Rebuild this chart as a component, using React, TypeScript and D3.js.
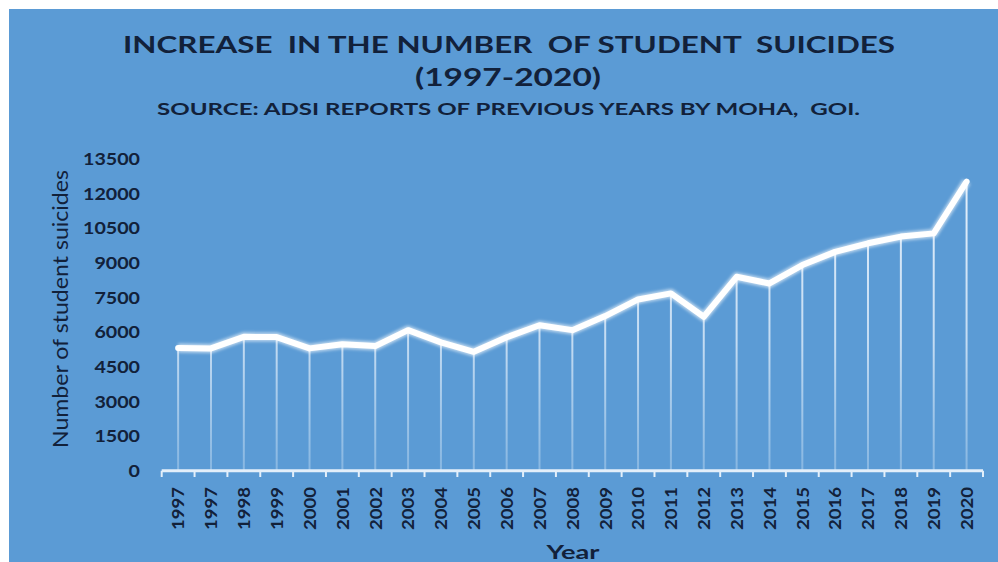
import React from "react";
import * as d3 from "d3";

const years = ["1997","1997","1998","1999","2000","2001","2002","2003","2004","2005","2006","2007","2008","2009","2010","2011","2012","2013","2014","2015","2016","2017","2018","2019","2020"];
const suicides = [5320,5300,5800,5790,5300,5480,5400,6090,5560,5150,5780,6300,6090,6700,7420,7680,6670,8400,8110,8910,9480,9850,10140,10280,12520];
const yTicks = [0,1500,3000,4500,6000,7500,9000,10500,12000,13500];

const titleLine1 = "INCREASE  IN THE NUMBER  OF STUDENT  SUICIDES";
const titleLine2 = "(1997-2020)";
const subtitle = "SOURCE: ADSI REPORTS OF PREVIOUS YEARS BY MOHA,  GOI.";
const yTitle = "Number of student suicides";
const xTitle = "Year";

const W = 998, H = 562;
const BG = "#5b9bd5";
const DARK = "#12213a";
const FONT = "Lato, 'Open Sans', 'Liberation Sans', sans-serif";

export default function App() {
  const idx = years.map((_, i) => i);
  const x = d3.scaleBand<number>().domain(idx).range([161.7, 983]).padding(0);
  const y = d3.scaleLinear().domain([0, 13500]).range([470.8, 159]);
  const cx = (i: number) => (x(i) as number) + x.bandwidth() / 2;
  const line = d3.line<number>().x((_, i) => cx(i)).y((d) => y(d));
  const path = line(suicides) || "";
  const boundaries = d3.range(years.length + 1).map((k) => 161.7 + k * x.bandwidth());

  return (
    <svg width={W} height={H} style={{ position: "absolute", left: 0, top: 0, background: "#fff" }}>
      <defs>
        <linearGradient id="drop" gradientUnits="userSpaceOnUse" x1="0" y1="150" x2="0" y2="471">
          <stop offset="0" stopColor="#f4f9ff" stopOpacity={0.95} />
          <stop offset="0.6" stopColor="#e6f1fc" stopOpacity={0.75} />
          <stop offset="1" stopColor="#d9eaf9" stopOpacity={0.35} />
        </linearGradient>
        <filter id="glow" x="-5%" y="-20%" width="110%" height="140%">
          <feGaussianBlur stdDeviation="1.6" />
        </filter>
      </defs>
      <rect x={9} y={9} width={W - 9} height={H - 9} fill={BG} />

      <text x={509} y={53} textAnchor="middle" fontFamily={FONT} fontWeight="bold" fontSize={23}
        fill={DARK} textLength={772} lengthAdjust="spacingAndGlyphs" style={{ whiteSpace: "pre" }}>{titleLine1}</text>
      <text x={508} y={86} textAnchor="middle" fontFamily={FONT} fontWeight="bold" fontSize={24}
        fill={DARK} textLength={186} lengthAdjust="spacingAndGlyphs">{titleLine2}</text>
      <text x={508.5} y={115} textAnchor="middle" fontFamily={FONT} fontWeight="bold" fontSize={17.5}
        fill={DARK} textLength={703} lengthAdjust="spacingAndGlyphs" style={{ whiteSpace: "pre" }}>{subtitle}</text>

      {yTicks.map((t) => (
        <text key={t} x={140} y={y(t)} dy="0.35em" textAnchor="end" fontFamily={FONT} fontWeight="bold"
          fontSize={17.5} fill={DARK} textLength={String(t).length * 11.4} lengthAdjust="spacingAndGlyphs">{t}</text>
      ))}

      <text transform={`translate(68,309) rotate(-90)`} textAnchor="middle" fontFamily={FONT} fontSize={21}
        fill={DARK} textLength={278} lengthAdjust="spacingAndGlyphs">{yTitle}</text>

      {suicides.map((v, i) => (
        <line key={i} x1={cx(i)} x2={cx(i)} y1={y(v)} y2={470.8} stroke="url(#drop)" strokeWidth={2} />
      ))}

      <line x1={161.7} x2={983} y1={470.8} y2={470.8} stroke="#e3effa" strokeWidth={3} />
      {boundaries.map((b, k) => (
        <line key={k} x1={b} x2={b} y1={470.8} y2={477} stroke="#e3effa" strokeWidth={2} />
      ))}

      <path d={path} fill="none" stroke="#ffffff" strokeOpacity={0.6} strokeWidth={9} strokeLinejoin="round" filter="url(#glow)" />
      <path d={path} fill="none" stroke="#ffffff" strokeWidth={6} strokeLinejoin="round" strokeLinecap="round" />

      {years.map((yr, i) => (
        <text key={i} transform={`translate(${cx(i)},487) rotate(-90)`} dy="0.36em" textAnchor="end"
          fontFamily={FONT} fontWeight="bold" fontSize={17.5} fill={DARK} textLength={43} lengthAdjust="spacingAndGlyphs">{yr}</text>
      ))}

      <text x={573} y={559} textAnchor="middle" fontFamily={FONT} fontWeight="bold" fontSize={19} fill={DARK}
        textLength={53} lengthAdjust="spacingAndGlyphs">{xTitle}</text>
    </svg>
  );
}
